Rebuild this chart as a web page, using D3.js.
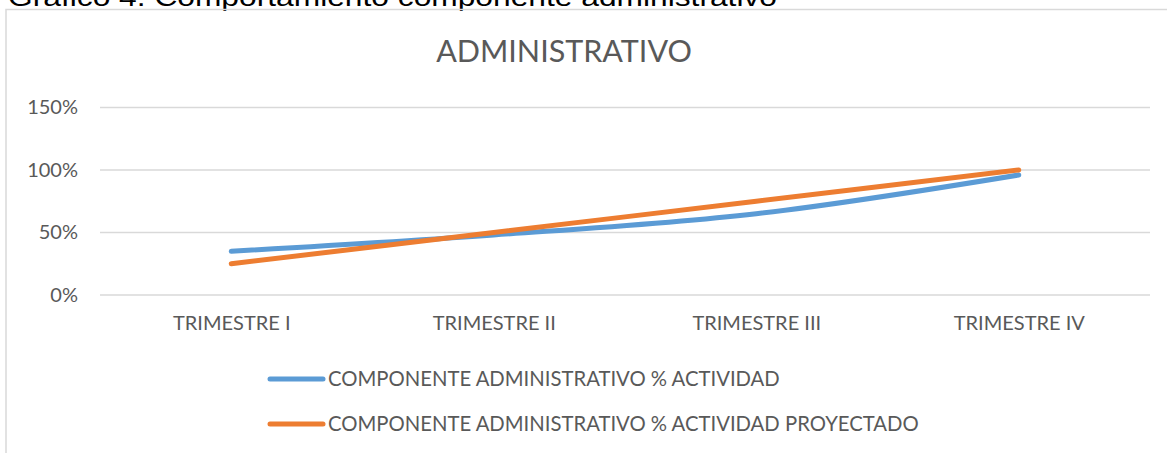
<!DOCTYPE html>
<html><head><meta charset="utf-8">
<script src="https://cdn.jsdelivr.net/npm/d3@7"></script>
<style>body{margin:0;background:#fff;} svg{display:block;}</style>
</head><body>
<svg id="c" width="1167" height="453"></svg>
<script>
const categories = ["TRIMESTRE I","TRIMESTRE II","TRIMESTRE III","TRIMESTRE IV"];
const actividad = [0.35, 0.48, 0.65, 0.96];
const proyectado = [0.25, 0.50, 0.75, 1.00];
const yTicks = [0, 0.5, 1.0, 1.5];
const seriesNames = ["COMPONENTE ADMINISTRATIVO % ACTIVIDAD","COMPONENTE ADMINISTRATIVO % ACTIVIDAD PROYECTADO"];
const colors = ["#5B9BD5","#ED7D31"];
const chartTitle = "ADMINISTRATIVO";
const caption = "Gráfico 4. Comportamiento componente administrativo";

const svg = d3.select("#c");
const font = "Lato, 'Open Sans', sans-serif";

// caption (cut off at top, as in the reference)
svg.append("text").attr("x",8).attr("y",6).attr("font-family","'Liberation Sans', Arial, sans-serif")
  .attr("font-size",25).attr("fill","#000").attr("textLength",769).attr("lengthAdjust","spacingAndGlyphs").text(caption);

// chart border
svg.append("rect").attr("x",6).attr("y",9.5).attr("width",1200).attr("height",500)
  .attr("fill","none").attr("stroke","#D9D9D9").attr("stroke-width",1.5);

const x = d3.scalePoint().domain(categories).range([100,1150]).padding(0.5);
const y = d3.scaleLinear().domain([0,1.5]).range([295,107.5]);

// gridlines
svg.append("g").selectAll("line").data(yTicks).join("line")
  .attr("x1",100).attr("x2",1150).attr("y1",d=>y(d)).attr("y2",d=>y(d))
  .attr("stroke","#D9D9D9").attr("stroke-width",1.5);

// y axis labels
const yAxis = d3.axisLeft(y).tickValues(yTicks).tickFormat(d3.format(".0%")).tickSize(0).tickPadding(0);
const ga = svg.append("g").attr("transform","translate(78,0)").call(yAxis);
ga.select(".domain").remove();
ga.selectAll("text").attr("font-family",font).attr("font-size",20).attr("fill","#595959");

// x axis labels
const xAxis = d3.axisBottom(x).tickSize(0).tickPadding(0);
const gx = svg.append("g").attr("transform","translate(0,316)").call(xAxis);
gx.select(".domain").remove();
gx.selectAll("text").attr("font-family",font).attr("font-size",20).attr("fill","#595959");

// title
svg.append("text").attr("x",564).attr("y",62).attr("text-anchor","middle")
  .attr("font-family",font).attr("font-size",30.5).attr("fill","#595959").text(chartTitle);

// lines
const line = d3.line().x((d,i)=>x(categories[i])).y(d=>y(d)).curve(d3.curveCatmullRom.alpha(0.5));
[actividad, proyectado].forEach((s,i)=>{
  svg.append("path").datum(s).attr("d",line).attr("fill","none")
    .attr("stroke",colors[i]).attr("stroke-width",5).attr("stroke-linecap","round").attr("stroke-linejoin","round");
});

// legend
const ly = [379, 424];
seriesNames.forEach((n,i)=>{
  svg.append("line").attr("x1",270).attr("x2",323).attr("y1",ly[i]).attr("y2",ly[i])
    .attr("stroke",colors[i]).attr("stroke-width",5).attr("stroke-linecap","round");
  svg.append("text").attr("x",328).attr("y",ly[i]).attr("dy","0.35em")
    .attr("font-family",font).attr("font-size",20.3).attr("fill","#595959").text(n);
});
</script>
</body></html>
